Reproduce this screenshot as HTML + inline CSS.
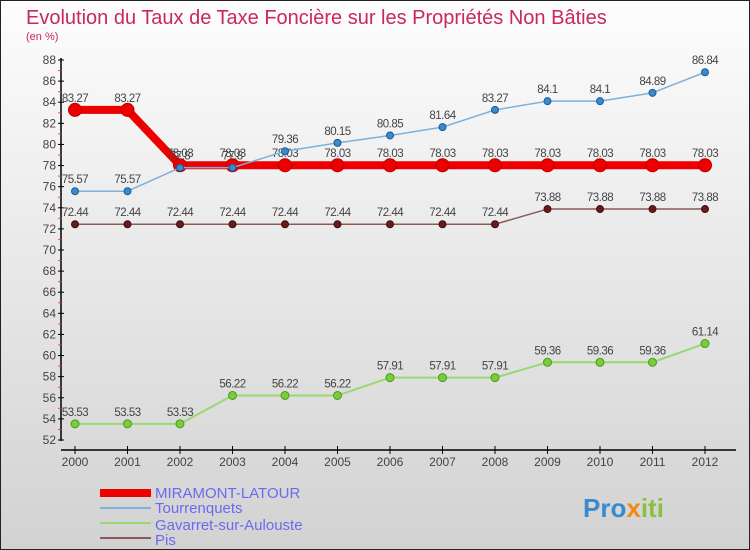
<!DOCTYPE html>
<html><head><meta charset="utf-8"><style>
body{margin:0}
svg{display:block;font-family:"Liberation Sans",sans-serif}
</style></head><body>
<svg id="c" width="750" height="550" xmlns="http://www.w3.org/2000/svg">
<defs><linearGradient id="bg" x1="0" y1="0" x2="0" y2="1"><stop offset="0" stop-color="#fdfdfd"/><stop offset="1" stop-color="#d2d2d2"/></linearGradient></defs>
<rect x="0.5" y="0.5" width="749" height="549" fill="url(#bg)" stroke="#222"/>
<text x="26" y="24" font-size="20" fill="#c8285a">Evolution du Taux de Taxe Foncière sur les Propriétés Non Bâties</text>
<text x="26" y="40" font-size="11" fill="#c8285a">(en %)</text>
<g id="axes"></g>
<g id="series"></g>
<g>
<rect x="100" y="489" width="51" height="8" fill="#e00"/>
<text x="155" y="498" font-size="15" fill="#6a6af0">MIRAMONT-LATOUR</text>
<rect x="100" y="507" width="51" height="2" fill="#7fb0d8"/>
<text x="155" y="513" font-size="15" fill="#6a6af0">Tourrenquets</text>
<rect x="100" y="522" width="51" height="2" fill="#9ad870"/>
<text x="155" y="530" font-size="15" fill="#6a6af0">Gavarret-sur-Aulouste</text>
<rect x="100" y="537" width="51" height="2" fill="#8a5a5a"/>
<text x="155" y="545" font-size="15" fill="#6a6af0">Pis</text>
</g>
<text x="583" y="517" font-size="26" font-weight="bold" fill="#3a8ad0">Pro<tspan fill="#f08a10">x</tspan><tspan fill="#8ac040">iti</tspan></text>
</svg>
<script>
const years=[2000,2001,2002,2003,2004,2005,2006,2007,2008,2009,2010,2011,2012];
const yTicks=[52,54,56,58,60,62,64,66,68,70,72,74,76,78,80,82,84,86,88];
const miramont=[83.27,83.27,78.03,78.03,78.03,78.03,78.03,78.03,78.03,78.03,78.03,78.03,78.03];
const tourrenquets=[75.57,75.57,77.8,77.8,79.36,80.15,80.85,81.64,83.27,84.1,84.1,84.89,86.84];
const gavarret=[53.53,53.53,53.53,56.22,56.22,56.22,57.91,57.91,57.91,59.36,59.36,59.36,61.14];
const pis=[72.44,72.44,72.44,72.44,72.44,72.44,72.44,72.44,72.44,73.88,73.88,73.88,73.88];
const NS="http://www.w3.org/2000/svg";
const xS=i=>75+i*52.5;
const yS=v=>440-(v-52)*(380/36);
function mk(tag,attrs,parent){const e=document.createElementNS(NS,tag);for(const k in attrs)e.setAttribute(k,attrs[k]);parent.appendChild(e);return e;}
const ax=document.getElementById('axes');
let l=mk('line',{x1:61,y1:58,x2:61,y2:441,stroke:'#000','stroke-width':1.5},ax);


l=mk('line',{x1:61,y1:450,x2:736,y2:450,stroke:'#000','stroke-width':1.5},ax);


yTicks.forEach(v=>{
 mk('line',{x1:58,y1:yS(v),x2:64,y2:yS(v),stroke:'#000'},ax);
 if(v<88) mk('line',{x1:58,y1:yS(v+1),x2:61,y2:yS(v+1),stroke:'#e44'},ax);
 const t=mk('text',{x:56,y:yS(v)+4,'font-size':12,fill:'#444','text-anchor':'end'},ax);
 t.textContent=v;
 
 
});
years.forEach((yr,i)=>{
 mk('line',{x1:xS(i),y1:446,x2:xS(i),y2:454,stroke:'#000'},ax);
 const t=mk('text',{x:xS(i),y:466,'font-size':12,fill:'#444','text-anchor':'middle'},ax);
 t.textContent=yr;
 
 
});
const sg=document.getElementById('series');
function draw(vals,name,color,w,r,fill,stroke){
 const g=mk('g',{},sg);
 
 
 const p=mk('polyline',{points:vals.map((v,i)=>xS(i)+','+yS(v)).join(' '),fill:'none',stroke:color,'stroke-width':w,'stroke-linejoin':'round'},g);
 
 
 vals.forEach((v,i)=>{
  const c=mk('circle',{cx:xS(i),cy:yS(v),r:r,fill:fill,stroke:stroke,'stroke-width':1},g);
  
  
  const t=mk('text',{x:xS(i),y:yS(v)-8,'font-size':11.5,fill:'#444','text-anchor':'middle','letter-spacing':'-0.5'},g);
  t.textContent=v;
  
  
 });
}
draw(gavarret,'gavarret','#9ad870',2,4,'#7ccc3a','#4a9a20');
draw(pis,'pis','#8a5a5a',1.5,3.5,'#6a1a1a','#401010');
draw(miramont,'miramont','#e00',8,6.5,'#e00','#b00');
draw(tourrenquets,'tourrenquets','#7fb0d8',1.5,3.5,'#3a8ad0','#1a5a90');
</script>
</body></html>
